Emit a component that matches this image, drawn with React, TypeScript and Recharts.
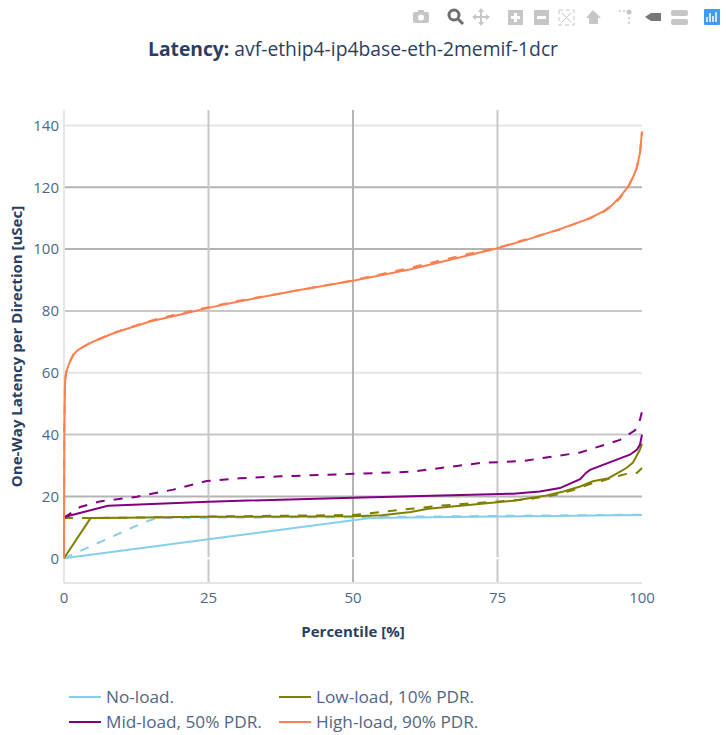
import { CartesianGrid, Label, Line, LineChart, ReferenceLine, XAxis, YAxis } from "recharts";

const FONT = '"Open Sans", sans-serif';
const TICK_COLOR = "#506784";
const TITLE_COLOR = "#2a3f5f";

const xTicks = [0, 25, 50, 75, 100];
const yTicks = [0, 20, 40, 60, 80, 100, 120, 140];
// the grid lines do not all look the same in the reference
const xGridColors = ["#e5e5e5", "#c8c8c8", "#b4b4b4", "#c8c8c8", "none"];
const yGridColors = ["none", "#b4b4b4", "#c8c8c8", "#e5e5e5", "#c8c8c8", "#b4b4b4", "#b4b4b4", "#e5e5e5"];

// [percentile, latency]
const noLoad = [[0, 0], [53, 13], [56, 13.1], [75, 13.5], [100, 14]];
const noLoadDash = [[0, 0], [13.7, 11.5], [16, 13], [30, 13.2], [50, 13.3], [75, 13.7], [100, 14.1]];
const lowLoad = [[0, 0], [4.6, 13], [10, 13.1], [25, 13.4], [50, 13.6], [55, 13.9], [60, 15], [63, 16], [70, 17.2], [77.7, 18.6], [83.5, 20.3], [86.4, 21.6], [89.3, 23.2], [91.5, 24.9], [94.2, 25.9], [97.3, 29.2], [98.4, 30.9], [98.9, 32.5], [99.6, 35], [100, 37]];
const lowLoadDash = [[0, 13], [10, 13.1], [25, 13.5], [50, 14], [55, 15], [60, 16], [65, 17], [70, 17.7], [80, 19], [85, 20.5], [88, 22], [91, 24], [93, 25], [95.9, 26.6], [97.3, 27.3], [99.1, 27.6], [100, 29.2]];
const midLoad = [[0, 13], [0.4, 13.5], [7.6, 17], [25, 18.3], [50, 19.6], [77.7, 20.9], [82.3, 21.6], [85.8, 22.7], [89.3, 25.6], [90.3, 27.6], [91, 28.6], [97.9, 33.5], [99.1, 35.1], [99.65, 36.7], [100, 40]];
const midLoadDash = [[0, 13], [0.3, 13.5], [2.8, 16.6], [6.2, 18.4], [12.6, 19.9], [18.9, 22.2], [24.7, 25], [30.4, 25.9], [37.4, 26.5], [50, 27.3], [60, 28], [72, 30.8], [79.5, 31.5], [89.3, 34.2], [96.2, 38.3], [98.8, 41.4], [99.65, 44.8], [100, 47.5]];
const highLoad = [[0, 0], [0.05, 40], [0.17, 57], [0.35, 60], [0.7, 62], [1.05, 63.7], [1.6, 65.8], [2.3, 67.2], [3.3, 68.4], [4.4, 69.5], [6.2, 71], [9.1, 73.2], [14.9, 76.6], [20, 78.8], [25, 81], [30, 83], [40, 86.5], [50, 89.8], [60, 93.5], [70, 98], [75, 100.3], [80, 103], [85.5, 106.3], [88.7, 108.4], [91, 110], [93.3, 112.2], [94.8, 114.2], [96.2, 116.9], [97.6, 120.2], [98.5, 123.5], [99.1, 126.3], [99.65, 131.1], [100, 138]];
const highLoadDash = [[0, 0], [0.05, 40], [0.17, 57], [0.35, 60], [0.7, 62], [1.05, 63.7], [1.6, 65.8], [2.3, 67.2], [3.3, 68.4], [4.4, 69.5], [6.2, 71], [9.1, 73.2], [14.9, 76.8], [20, 79.2], [25, 81.2], [30, 83.2], [40, 86.5], [50, 89.9], [60, 94], [70, 98.5], [75, 100.4], [80, 103.2], [85.5, 106.2], [88.7, 108.4], [91, 110], [93.3, 112], [94.8, 114], [96.2, 116.5], [97.6, 120.2], [98.5, 123.5], [99.1, 126.3], [99.65, 131.1], [100, 138]];

const seriesNames = ["No-load.", "Low-load, 10% PDR.", "Mid-load, 50% PDR.", "High-load, 90% PDR."];
const seriesColors = ["#87ceeb", "#808000", "#800080", "#ff7f50"];
const solidSeries = [noLoad, lowLoad, midLoad, highLoad];
const dashSeries = [noLoadDash, lowLoadDash, midLoadDash, highLoadDash];

const toPoints = (rows: number[][]) => rows.map(([x, y]) => ({ x, y }));

function gridLine(colors: string[]) {
  return ({ index, x1, y1, x2, y2 }: any) => (
    <line key={index} x1={x1} y1={y1} x2={x2} y2={y2} stroke={colors[index]} strokeWidth={2} />
  );
}

function ChartLegend() {
  return (
    <div
      style={{
        position: "absolute",
        left: 69,
        top: 684,
        display: "grid",
        gridTemplateColumns: "210px 210px",
        fontFamily: FONT,
        fontSize: 17.2,
        lineHeight: "25px",
        color: TICK_COLOR,
      }}
    >
      {seriesNames.map((name, i) => (
        <div key={name} style={{ display: "flex", alignItems: "center", whiteSpace: "nowrap" }}>
          <span style={{ width: 32, height: 2, background: seriesColors[i], marginRight: 5 }} />
          {name}
        </div>
      ))}
    </div>
  );
}

function Toolbar() {
  const grey = "#c6c6c6";
  return (
    <svg width={726} height={34} style={{ position: "absolute", left: 0, top: 0 }}>
      {/* camera */}
      <rect x={413} y={12} width={16} height={11} rx={2} fill={grey} />
      <rect x={418} y={10} width={6} height={3} fill={grey} />
      <circle cx={421} cy={17.5} r={3} fill="#fff" />
      {/* zoom */}
      <circle cx={454} cy={15} r={5} fill="none" stroke="#6e6e6e" strokeWidth={3} />
      <line x1={458} y1={19} x2={463} y2={24} stroke="#6e6e6e" strokeWidth={3} />
      {/* pan */}
      <line x1={481} y1={10} x2={481} y2={24} stroke={grey} strokeWidth={2} />
      <line x1={474} y1={17} x2={488} y2={17} stroke={grey} strokeWidth={2} />
      <path d="M481 8 L484 12 L478 12 Z M481 26 L484 22 L478 22 Z M472 17 L476 14 L476 20 Z M490 17 L486 14 L486 20 Z" fill={grey} />
      {/* zoom in / out */}
      <rect x={508} y={10} width={15} height={15} fill={grey} />
      <rect x={511} y={16} width={9} height={3} fill="#fff" />
      <rect x={514} y={13} width={3} height={9} fill="#fff" />
      <rect x={534} y={10} width={15} height={15} fill={grey} />
      <rect x={537} y={16} width={9} height={3} fill="#fff" />
      {/* autoscale */}
      <rect x={559} y={10} width={15} height={15} fill="none" stroke={grey} strokeDasharray="4 3" />
      <line x1={562} y1={13} x2={571} y2={22} stroke={grey} />
      <line x1={571} y1={13} x2={562} y2={22} stroke={grey} />
      {/* home */}
      <path d="M586 18 L593 10 L601 18 L598 18 L598 24 L589 24 L589 18 Z" fill={grey} />
      {/* spikes */}
      <circle cx={629} cy={12} r={2.5} fill={grey} />
      <circle cx={620} cy={11} r={1} fill={grey} />
      <circle cx={624} cy={11} r={1} fill={grey} />
      <circle cx={629} cy={18} r={1} fill={grey} />
      <circle cx={629} cy={23} r={1} fill={grey} />
      {/* hover tags */}
      <path d="M645 17 L651 13 L661 13 L661 21 L651 21 Z" fill="#777" />
      <rect x={671} y={10} width={17} height={6} rx={2} fill={grey} />
      <rect x={671} y={19} width={17} height={6} rx={2} fill={grey} />
      {/* logo */}
      <rect x={704} y={9} width={16} height={16} rx={1} fill="#3f9bf5" />
      <path d="M707 22V17 M710 22V13 M713 22V16 M716 22V12" stroke="#fff" strokeWidth={1.5} />
    </svg>
  );
}

export default function App() {
  return (
    <div style={{ position: "absolute", left: 0, top: 0, width: 726, height: 735, background: "#fff" }}>
      <div
        style={{
          position: "absolute",
          left: 0,
          width: 706,
          top: 35,
          textAlign: "center",
          fontFamily: FONT,
          fontSize: 19.3,
          lineHeight: "28px",
          color: TITLE_COLOR,
        }}
      >
        <b>Latency:</b> avf-ethip4-ip4base-eth-2memif-1dcr
      </div>
      <LineChart width={726} height={735} margin={{ top: 110, right: 84, bottom: 100, left: 0 }}>
        <CartesianGrid
          syncWithTicks
          vertical={gridLine(xGridColors)}
          horizontal={gridLine(yGridColors)}
        />
        <XAxis
          type="number"
          dataKey="x"
          domain={[0, 100]}
          ticks={xTicks}
          height={52}
          axisLine={{ stroke: "#e5e5e5", strokeWidth: 2 }}
          tickLine={false}
          tickMargin={3}
          tick={{ fontFamily: FONT, fontSize: 15, fill: TICK_COLOR }}
        >
          <Label
            value="Percentile [%]"
            position="insideBottom"
            offset={-2}
            style={{ fontFamily: FONT, fontSize: 15, fontWeight: 700, fill: TITLE_COLOR }}
          />
        </XAxis>
        <YAxis
          type="number"
          dataKey="y"
          domain={[-8, 145]}
          ticks={yTicks}
          width={64}
          axisLine={false}
          tickLine={false}
          tickSize={5}
          tickMargin={0}
          tick={{ fontFamily: FONT, fontSize: 15, fill: TICK_COLOR }}
        >
          <Label
            value="One-Way Latency per Direction [uSec]"
            angle={-90}
            position="insideLeft"
            offset={17}
            style={{ textAnchor: "middle", fontFamily: FONT, fontSize: 15, fontWeight: 700, fill: TITLE_COLOR }}
          />
        </YAxis>
        <ReferenceLine y={0} stroke="#ffffff" strokeWidth={2} />
        {seriesNames.map((name, i) => [
          <Line
            key={name + " dash"}
            data={toPoints(dashSeries[i])}
            dataKey="y"
            name={name + " dash"}
            stroke={seriesColors[i]}
            strokeWidth={2}
            strokeDasharray="9 9"
            dot={false}
            isAnimationActive={false}
          />,
          <Line
            key={name}
            data={toPoints(solidSeries[i])}
            dataKey="y"
            name={name}
            stroke={seriesColors[i]}
            strokeWidth={2}
            dot={false}
            isAnimationActive={false}
          />,
        ])}
      </LineChart>
      <ChartLegend />
      <Toolbar />
    </div>
  );
}
